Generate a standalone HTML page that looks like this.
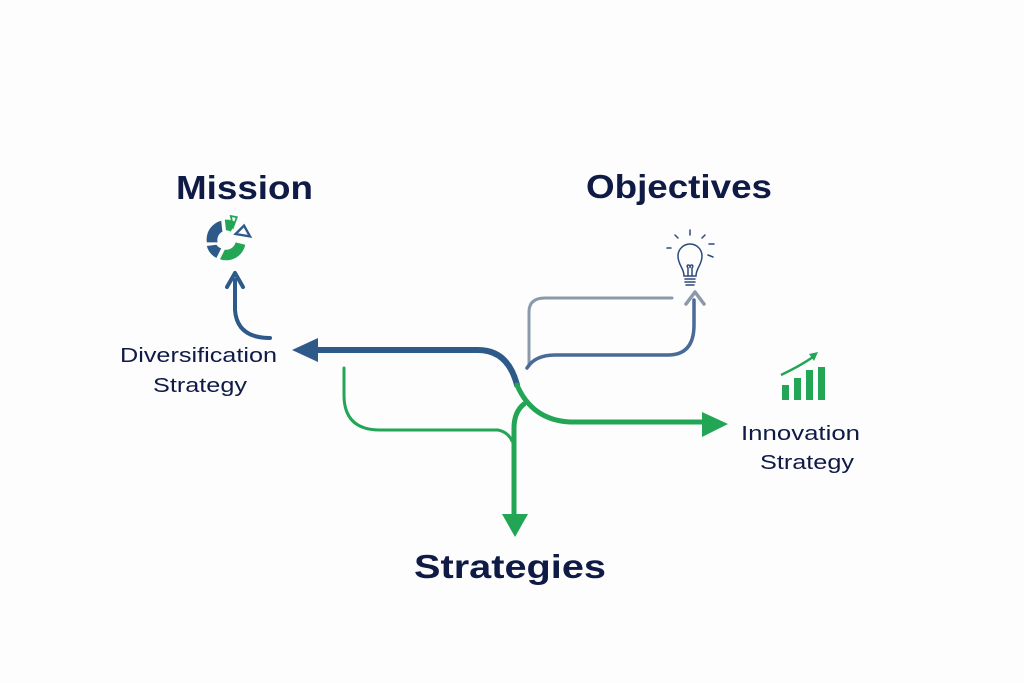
<!DOCTYPE html>
<html><head><style>
body{margin:0;width:1024px;height:683px;background:#fdfdfe;overflow:hidden}
svg{display:block}
text{font-family:"Liberation Sans",sans-serif;fill:#0f1a45}
</style></head><body>
<svg width="1024" height="683" viewBox="0 0 1024 683">
<text x="176" y="199" font-size="33" font-weight="bold" textLength="137" lengthAdjust="spacingAndGlyphs">Mission</text>
<text x="586" y="198" font-size="33" font-weight="bold" textLength="186" lengthAdjust="spacingAndGlyphs">Objectives</text>
<text x="414" y="578" font-size="33" font-weight="bold" textLength="192" lengthAdjust="spacingAndGlyphs">Strategies</text>
<text x="120" y="362" font-size="20" textLength="157" lengthAdjust="spacingAndGlyphs">Diversification</text>
<text x="153" y="392" font-size="20" textLength="94" lengthAdjust="spacingAndGlyphs">Strategy</text>
<text x="741" y="440" font-size="20" textLength="119" lengthAdjust="spacingAndGlyphs">Innovation</text>
<text x="760" y="469" font-size="20" textLength="94" lengthAdjust="spacingAndGlyphs">Strategy</text>
<!-- pie icon -->
<g transform="translate(226,240) scale(1.2)">
<path d="M-4,-16 A16,16 0 0 0 -16,2 L-7,2 A8,8 0 0 1 -3,-7 Z" fill="#2e5a8a"/>
<path d="M-16,5 A16,16 0 0 0 -8,15 L-4,7 A8,8 0 0 1 -8,4 Z" fill="#2e5a8a"/>
<path d="M-5,16 A16,16 0 0 0 16,4 L8,2 A8,8 0 0 1 -1,8 Z" fill="#22a555"/>
<path d="M-1,-17 A17,17 0 0 1 8,-15 L4,-7 A8,8 0 0 0 0,-8 Z" fill="#22a555"/>
<path d="M4,-20 l5,1 l-3,8 z" fill="none" stroke="#22a555" stroke-width="1.5"/>
<path d="M8,-5 l7,-7 l5,9 z" fill="none" stroke="#2e5a8a" stroke-width="2"/>
</g>
<!-- bulb -->
<g fill="none" stroke="#2e4a7a" stroke-width="1.5" stroke-linecap="round">
<path d="M684,276 C684,268 678,265 678,256 A12,12 0 0 1 702,256 C702,265 696,268 696,276 Z"/>
<path d="M685,279 h10 M685,282 h10 M686,285 h8"/>
<path d="M688,276 v-8 M692,276 v-8 M688,268 c-3,-4 3,-4 2,0 c-1,-4 5,-4 2,0"/>
<path d="M667,248 h4 M675,235 l3,3 M690,230 v5 M705,235 l-3,3 M709,244 h5 M708,255 l5,2"/>
</g>
<!-- bar chart -->
<g fill="#22a555">
<rect x="782" y="385" width="7" height="15"/><rect x="794" y="378" width="7" height="22"/>
<rect x="806" y="370" width="7" height="30"/><rect x="818" y="367" width="7" height="33"/>
<path d="M781,375 Q800,366 813,357" stroke="#22a555" stroke-width="2.5" fill="none"/>
<path d="M818,352 l-9,2 l5,7 z"/>
</g>
<g fill="none" stroke-linecap="round">
<path d="M672,298 H545 Q529,298 529,312 V366" stroke="#8a9aaa" stroke-width="3"/>
<path d="M527,368 Q535,355 555,355 H668 Q694,355 694,325 V300" stroke="#4a6a98" stroke-width="3.5"/>
<path d="M270,338 Q237,338 235,310 V280" stroke="#2e5a8a" stroke-width="4"/>
<path d="M315,350 H478 Q508,350 517,385" stroke="#2e5a8a" stroke-width="6"/>
<path d="M517,385 Q532,420 570,422 H705" stroke="#22a555" stroke-width="5"/>
<path d="M524,404 Q514,412 514,428 V515" stroke="#22a555" stroke-width="5"/>
<path d="M344,368 V395 Q344,430 380,430 H498 Q508,432 512,441" stroke="#22a555" stroke-width="3"/>
</g>
<path d="M292,350 L318,338 L318,362 Z" fill="#2e5a8a"/>
<path d="M728,424 L702,412 L702,437 Z" fill="#22a555"/>
<path d="M515,537 L502,514 L528,514 Z" fill="#22a555"/>
<path d="M695,292 L686,304 M695,292 L704,304" stroke="#8a9aaa" stroke-width="3.5" stroke-linecap="round" fill="none"/>
<path d="M235,273 L227,287 M235,273 L243,287" stroke="#2e5a8a" stroke-width="4" stroke-linecap="round" fill="none"/>
</svg>
</body></html>
